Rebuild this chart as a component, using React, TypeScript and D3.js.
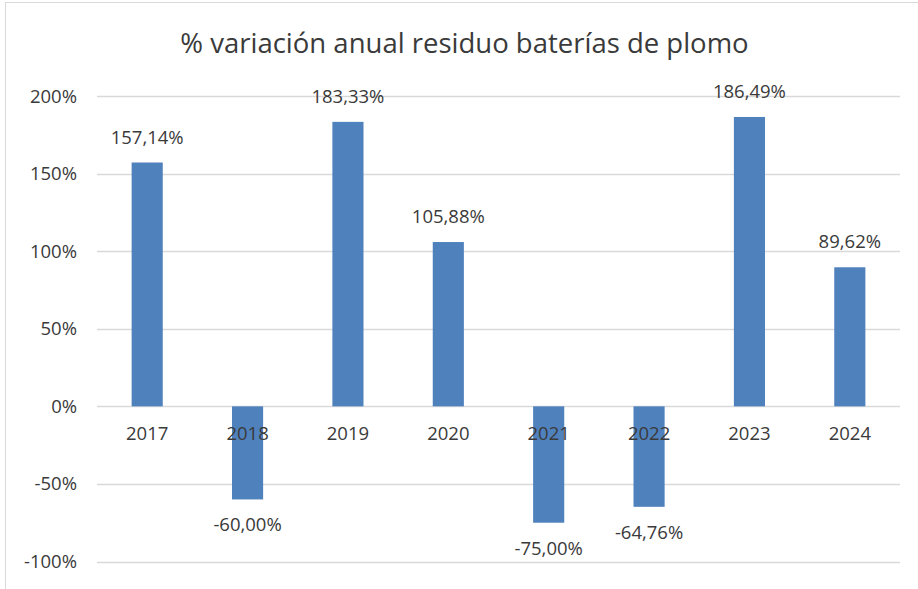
import { FC, useMemo } from 'react';
import * as d3 from 'd3';

const WIDTH = 918;
const HEIGHT = 589;
const MARGIN = { top: 96, right: 18, bottom: 27.5, left: 97 };

const TITLE = '% variación anual residuo baterías de plomo';
const years = ['2017', '2018', '2019', '2020', '2021', '2022', '2023', '2024'];
const variation = [157.14, -60.0, 183.33, 105.88, -75.0, -64.76, 186.49, 89.62];
const yTicks = [-100, -50, 0, 50, 100, 150, 200];

const FONT = '"Open Sans", "Noto Sans", sans-serif';
const TEXT = '#3a3a3a';
const GRID = '#d9d9d9';
const BAR = '#4f81bd';

const fmt = (v: number) => v.toFixed(2).replace('.', ',') + '%';

const App: FC = () => {
  const xScale = useMemo(() => {
    return d3.scaleBand<string>()
      .domain(years)
      .range([MARGIN.left, WIDTH - MARGIN.right])
      .paddingInner(0.69)
      .paddingOuter(0.345);
  }, []);

  const yScale = useMemo(() => {
    return d3.scaleLinear().domain([-100, 200]).range([HEIGHT - MARGIN.bottom, MARGIN.top]);
  }, []);

  const zero = yScale(0);

  return (
    <svg
      width={WIDTH}
      height={HEIGHT}
      style={{ position: 'absolute', left: 0, top: 0, background: '#fff' }}
      fontFamily={FONT}
    >
      <rect x={5.5} y={2.5} width={WIDTH} height={HEIGHT} fill="#fff" stroke={GRID} strokeWidth={1} />

      <text x={464.5} y={53} textAnchor="middle" fontSize={27.5} fill={TEXT}>
        {TITLE}
      </text>

      {/* gridlines + y labels */}
      {yTicks.map((t) => (
        <g key={t}>
          <line
            x1={MARGIN.left}
            x2={WIDTH - MARGIN.right}
            y1={Math.round(yScale(t)) + 0.5}
            y2={Math.round(yScale(t)) + 0.5}
            stroke={GRID}
            strokeWidth={1.3}
          />
          <text x={77} y={yScale(t) + 6.5} textAnchor="end" fontSize={18.5} fill={TEXT}>
            {t}%
          </text>
        </g>
      ))}

      {/* bars */}
      {years.map((yr, i) => {
        const v = variation[i];
        const y0 = yScale(Math.max(0, v));
        const y1 = yScale(Math.min(0, v));
        return (
          <rect key={yr} x={xScale(yr)} y={y0} width={xScale.bandwidth()} height={y1 - y0} fill={BAR} />
        );
      })}

      {/* category labels */}
      {years.map((yr) => (
        <text
          key={yr}
          x={(xScale(yr) ?? 0) + xScale.bandwidth() / 2}
          y={zero + 34}
          textAnchor="middle"
          fontSize={18.5}
          fill={TEXT}
        >
          {yr}
        </text>
      ))}

      {/* value labels */}
      {years.map((yr, i) => {
        const v = variation[i];
        const cx = (xScale(yr) ?? 0) + xScale.bandwidth() / 2;
        const y = v >= 0 ? yScale(v) - 19 : yScale(v) + 32;
        return (
          <text key={yr} x={cx} y={y} textAnchor="middle" fontSize={18.5} fill={TEXT}>
            {fmt(v)}
          </text>
        );
      })}
    </svg>
  );
};

export default App;
